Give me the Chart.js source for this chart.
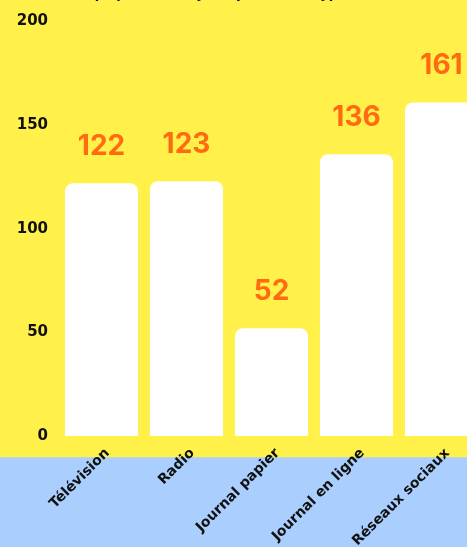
<!DOCTYPE html>
<html>
<head>
<meta charset="utf-8">
<script src="https://cdn.jsdelivr.net/npm/chart.js@4/dist/chart.umd.min.js"></script>
<style>
  html, body { margin: 0; padding: 0; overflow: hidden; background: #aacfff; }
  #wrap { position: absolute; left: 0; top: -13px; width: 545px; height: 560px; }
</style>
</head>
<body>
<div id="wrap"><canvas id="mediaChart" width="545" height="560"></canvas></div>
<script>
// Data
const categories = ["Télévision", "Radio", "Journal papier", "Journal en ligne", "Réseaux sociaux"];
const values = [122, 123, 52, 136, 161];
const yTicks = [0, 50, 100, 150, 200];

const YELLOW = "#fff04a";
const BLUE = "#aacfff";
const ORANGE = "#ff6a13";

// yellow top / blue bottom background
const bgPlugin = {
  id: "bg",
  beforeDraw(chart) {
    const { ctx, width, height, chartArea } = chart;
    const split = chartArea.bottom + 21.5;
    ctx.save();
    ctx.fillStyle = YELLOW;
    ctx.fillRect(0, 0, width, split);
    ctx.fillStyle = BLUE;
    ctx.fillRect(0, split, width, height - split);
    ctx.restore();
  }
};

// values above the bars
const valueLabels = {
  id: "valueLabels",
  afterDatasetsDraw(chart) {
    const { ctx } = chart;
    const meta = chart.getDatasetMeta(0);
    ctx.save();
    ctx.fillStyle = ORANGE;
    ctx.font = "bold 28px Inter, 'Noto Sans', sans-serif";
    ctx.textAlign = "center";
    ctx.textBaseline = "middle";
    meta.data.forEach((bar, i) => {
      ctx.fillText(values[i], bar.x, bar.y - 37);
    });
    ctx.restore();
  }
};

const tickFont = { family: "'DejaVu Sans', sans-serif", weight: "bold" };

new Chart(document.getElementById("mediaChart"), {
  type: "bar",
  data: {
    labels: categories,
    datasets: [{
      data: values,
      backgroundColor: "#ffffff",
      borderRadius: { topLeft: 8, topRight: 8, bottomLeft: 0, bottomRight: 0 },
      borderSkipped: false,
      categoryPercentage: 0.86,
      barPercentage: 1
    }]
  },
  options: {
    responsive: false,
    animation: false,
    layout: { padding: { left: 0, right: 61, top: 0, bottom: 0 } },
    plugins: {
      legend: { display: false },
      tooltip: { enabled: false },
      title: {
        display: true,
        text: "Temps passé (h) / jour (j) selon le type de média",
        color: "#111",
        font: { ...tickFont, size: 13 },
        padding: { top: 0, bottom: 19 }
      }
    },
    scales: {
      x: {
        grid: { display: false, drawTicks: false },
        border: { display: false },
        ticks: {
          color: "#111",
          font: { ...tickFont, size: 14 },
          minRotation: 45,
          maxRotation: 45,
          padding: 9,
          labelOffset: 6
        },
        afterFit: s => { s.height = 111; }
      },
      y: {
        min: 0,
        max: 200,
        grid: { display: false, drawTicks: false },
        border: { display: false },
        afterBuildTicks: s => { s.ticks = yTicks.map(v => ({ value: v })); },
        ticks: {
          color: "#111",
          font: { ...tickFont, size: 15 },
          padding: 11
        },
        afterFit: s => { s.width = 59; }
      }
    }
  },
  plugins: [bgPlugin, valueLabels]
});
</script>
</body>
</html>
